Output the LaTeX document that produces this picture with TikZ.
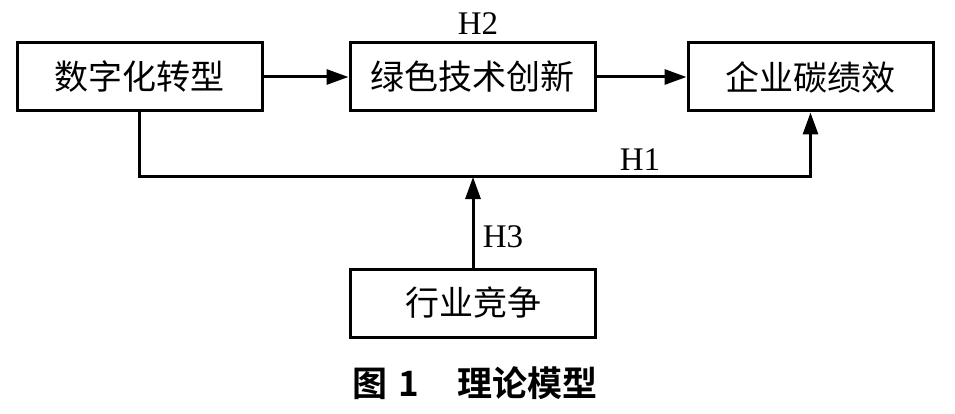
\documentclass[tikz,border=0pt]{standalone}
\usepackage{fontspec}
\setmainfont{Liberation Serif}
\newfontfamily\cjk{Noto Sans CJK SC}
\newfontfamily\cjkbold{Noto Sans CJK SC Bold}
\usetikzlibrary{arrows.meta}
\begin{document}
\begin{tikzpicture}[x=1pt,y=-1pt,
  box/.style={draw,line width=3pt,minimum width=245pt,minimum height=68pt,inner sep=0pt,font=\cjk\fontsize{34}{36}\selectfont},
  conn/.style={line width=3pt,-{Triangle[length=22pt,width=15pt]}},
  hlabel/.style={font=\fontsize{33}{36}\selectfont,inner sep=0pt}]
\useasboundingbox (0,0) rectangle (955,414);
\node[box] (b1) at (139.5,77) {数字化转型};
\node[box] (b2) at (472.5,77) {绿色技术创新};
\node[box] (b3) at (810.5,77) {企业碳绩效};
\node[box] (b4) at (473,303) {行业竞争};
\coordinate (j) at (473,177);
\draw[conn] (b1) -- (b2);
\draw[conn] (b2) -- (b3);
\draw[conn] (b1.south) |- (j) -| (b3.south);
\draw[conn] (b4.north) -- (j);
\node[hlabel] (h2) at (478,24) {H2};
\node[hlabel] (h1) at (640,160) {H1};
\node[hlabel] (h3) at (503,237) {H3};
\node[inner sep=0pt,font=\cjkbold\fontsize{35}{36}\selectfont] (cap) at (475,383) {图\hspace{0.3em}1\hspace{1.1em}理论模型};
\end{tikzpicture}
\end{document}
